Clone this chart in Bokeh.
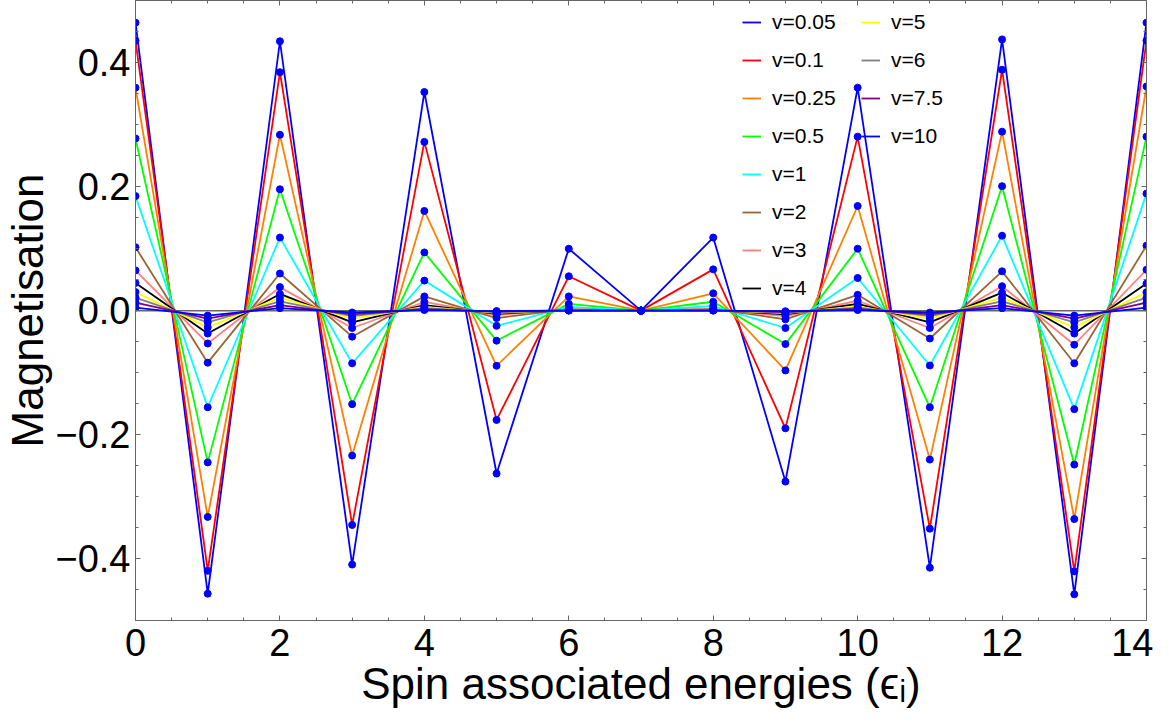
import numpy as np
from bokeh.plotting import figure
from bokeh.models import Range1d, FixedTicker, LinearAxis, Legend, LegendItem, Span
from bokeh.embed import file_html
from bokeh.resources import INLINE

# ---------------- data ----------------
energies = list(range(15))

v_labels = ["v=0.05", "v=0.1", "v=0.25", "v=0.5", "v=1", "v=2", "v=3", "v=4",
            "v=5", "v=6", "v=7.5", "v=10"]
v_colors = ["#0000FF", "#FF0000", "#FF8000", "#00FF00", "#00FFFF", "#996633",
            "#FF8080", "#000000", "#FFFF00", "#808080", "#800080", "#0000FF"]

m_v005 = [0.465, -0.457, 0.435, -0.410, 0.353, -0.263, 0.100, 0.0, 0.118, -0.276, 0.360, -0.415, 0.438, -0.458, 0.465]
m_v01 = [0.436, -0.420, 0.385, -0.346, 0.2725, -0.1765, 0.0555, 0.0, 0.0667, -0.190, 0.281, -0.352, 0.389, -0.421, 0.436]
m_v025 = [0.360, -0.333, 0.284, -0.234, 0.161, -0.089, 0.023, 0.0, 0.028, -0.0965, 0.169, -0.2405, 0.289, -0.3365, 0.362]
m_v05 = [0.278, -0.245, 0.196, -0.151, 0.094, -0.0485, 0.011, 0.0, 0.0144, -0.054, 0.100, -0.156, 0.201, -0.2485, 0.281]
m_v1 = [0.185, -0.156, 0.118, -0.085, 0.0485, -0.0245, 0.006, 0.0, 0.0075, -0.028, 0.0528, -0.0885, 0.121, -0.159, 0.189]
m_v2 = [0.1024, -0.084, 0.060, -0.042, 0.023, -0.012, 0.0025, 0.0, 0.003, -0.014, 0.0256, -0.045, 0.0635, -0.085, 0.105]
m_v3 = [0.065, -0.053, 0.038, -0.028, 0.014, -0.007, 0.0015, 0.0, 0.002, -0.009, 0.016, -0.028, 0.0395, -0.055, 0.066]
m_v4 = [0.0448, -0.037, 0.027, -0.019, 0.009, -0.005, 0.001, 0.0, 0.0012, -0.006, 0.011, -0.019, 0.029, -0.037, 0.0437]
m_v5 = [0.030, -0.027, 0.021, -0.013, 0.006, -0.0035, 0.0007, 0.0, 0.0008, -0.004, 0.007, -0.013, 0.021, -0.027, 0.0298]
m_v6 = [0.021, -0.019, 0.015, -0.009, 0.004, -0.0025, 0.0005, 0.0, 0.0005, -0.003, 0.005, -0.009, 0.015, -0.019, 0.021]
m_v75 = [0.013, -0.013, 0.009, -0.006, 0.0025, -0.0015, 0.0003, 0.0, 0.0003, -0.002, 0.003, -0.006, 0.009, -0.013, 0.013]
m_v10 = [0.005, -0.008, 0.004, -0.003, 0.001, -0.0007, 0.0001, 0.0, 0.0001, -0.001, 0.001, -0.003, 0.004, -0.008, 0.005]

series = [m_v005, m_v01, m_v025, m_v05, m_v1, m_v2, m_v3, m_v4, m_v5, m_v6, m_v75, m_v10]

x_ticks = [0, 2, 4, 6, 8, 10, 12, 14]
y_ticks = [-0.4, -0.2, 0.0, 0.2, 0.4]
y_tick_labels = ["\u22120.4", "\u22120.2", "0.0", "0.2", "0.4"]

# ---------------- figure ----------------
FONT = "Liberation Sans"
GRAY = "#666666"
FRAME_H = 620

p = figure(width=1153, height=710, output_backend="svg", toolbar_location=None,
           x_range=Range1d(0, 14), y_range=Range1d(-0.5003, 0.5008),
           min_border_left=134, min_border_right=7, min_border_top=0,
           min_border_bottom=710 - FRAME_H)
p.xgrid.visible = False
p.ygrid.visible = False
p.outline_line_color = GRAY
p.outline_line_width = 1
p.background_fill_color = "white"

bottom_axis = p.below[0]
left_axis = p.left[0]

x_minor = list(np.arange(0, 14.01, 0.5))
y_minor = list(np.round(np.arange(-0.5, 0.501, 0.05), 3))

top_axis = LinearAxis()
right_axis = LinearAxis()
p.add_layout(top_axis, "above")
p.add_layout(right_axis, "right")

for ax in [bottom_axis, top_axis]:
    ax.ticker = FixedTicker(ticks=x_ticks, minor_ticks=x_minor)
for ax in [left_axis, right_axis]:
    ax.ticker = FixedTicker(ticks=y_ticks, minor_ticks=y_minor)

for ax in [bottom_axis, left_axis, top_axis, right_axis]:
    ax.axis_line_color = GRAY
    ax.major_tick_line_color = GRAY
    ax.minor_tick_line_color = GRAY
    ax.major_tick_in = 5
    ax.major_tick_out = 0
    ax.minor_tick_in = 3
    ax.minor_tick_out = 0
    ax.major_label_text_font = FONT
    ax.major_label_text_color = "black"

top_axis.major_label_overrides = {t: "" for t in x_ticks}
right_axis.major_label_overrides = {t: "" for t in y_ticks}
for ax in [top_axis, right_axis]:
    ax.major_label_text_font_size = "1px"
    ax.major_label_standoff = 0

bottom_axis.major_label_text_font_size = "38px"
left_axis.major_label_text_font_size = "38px"
bottom_axis.major_label_standoff = 8
left_axis.major_label_standoff = 5
left_axis.major_label_overrides = {t: l for t, l in zip(y_ticks, y_tick_labels)}
bottom_axis.major_label_overrides = {t: str(t) for t in x_ticks}

bottom_axis.axis_label = "Spin associated energies (\u03f5\u1d62)"
left_axis.axis_label = "Magnetisation"
for ax in [bottom_axis, left_axis]:
    ax.axis_label_text_font = FONT
    ax.axis_label_text_font_size = "44px"
    ax.axis_label_text_font_style = "normal"
    ax.axis_label_text_color = "black"
    ax.axis_label_standoff = 0

p.add_layout(Span(location=0, dimension="width", line_color=GRAY, line_width=1.5,
                  level="underlay"))

renderers = []
for vals, col in zip(series, v_colors):
    r = p.line(energies, vals, line_color=col, line_width=1.8)
    renderers.append(r)

for vals in series:
    p.scatter(energies, vals, size=7, fill_color="#0000FF", line_color="#0000FF")

items1 = [LegendItem(label=l, renderers=[r]) for l, r in zip(v_labels[:8], renderers[:8])]
items2 = [LegendItem(label=l, renderers=[r]) for l, r in zip(v_labels[8:], renderers[8:])]

def make_legend(items, x, nrows):
    h = nrows * 24 + (nrows - 1) * 14
    lg = Legend(items=items, location=(x, FRAME_H - 10 - h), orientation="vertical",
                glyph_width=19, glyph_height=24, label_height=24, spacing=14,
                label_standoff=11, padding=0, margin=0,
                background_fill_alpha=0, border_line_alpha=0,
                label_text_font=FONT, label_text_font_size="21px",
                label_text_color="black")
    return lg

p.add_layout(make_legend(items1, 607, 8), "center")
p.add_layout(make_legend(items2, 726, 4), "center")

open("out.html", "w").write(file_html(p, INLINE))
